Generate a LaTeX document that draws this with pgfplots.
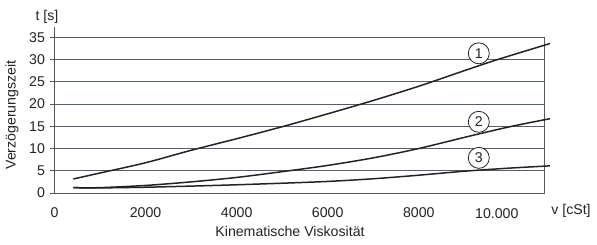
\documentclass[border=0pt]{standalone}
\usepackage{fontspec}
\setmainfont{Liberation Sans}
\usepackage{pgfplots}
\pgfplotsset{compat=1.18}
\definecolor{gridc}{RGB}{85,95,105}
\definecolor{curvec}{RGB}{35,35,35}
\definecolor{txt}{RGB}{35,35,35}
\begin{document}
\begin{tikzpicture}[font=\fontsize{14.2}{16}\selectfont]
\useasboundingbox (-54.5bp,-52bp) rectangle (542.5bp,193bp);
\begin{axis}[
  at={(0,0)}, anchor=south west,
  scale only axis, width=489.5bp, height=155.7bp,
  xmin=0, xmax=10750, ymin=0, ymax=35,
  clip=false,
  scaled x ticks=false,
  axis line style={draw=black!65, line width=0.7pt},
  xtick={0,2000,4000,6000,8000},
  xticklabels={0,2000,4000,6000,8000},
  extra x ticks={10000},
  extra x tick labels={10.000},
  extra x tick style={major tick length=0pt, xticklabel style={xshift=-13bp, yshift=-6bp}},
  xtick style={draw=none},
  ytick={0,5,...,35},
  ytick pos=left,
  tick align=outside,
  major tick length=5bp,
  ytick style={draw=black!65, line width=0.7pt},
  ymajorgrids,
  grid style={draw=gridc, line width=0.7pt},
  /pgf/number format/assume math mode=true,
  /pgf/number format/1000 sep={},
  ticklabel style={font=\fontsize{14.2}{16}\selectfont, text=txt},
  xticklabel style={yshift=-6bp},
  yticklabel style={xshift=-1bp},
]
\addplot[curvec, line width=1.5pt, smooth] coordinates {
 (413,3.15) (1000,4.5) (2000,6.8) (3000,9.6) (4000,12.2) (5000,14.9) (6000,17.8)
 (7000,20.8) (8000,24.0) (9000,27.5) (9700,29.9) (10880,33.6)};
\addplot[curvec, line width=1.5pt, smooth] coordinates {
 (413,1.2) (1000,1.2) (2000,1.7) (3000,2.5) (4000,3.5) (5000,4.8) (6000,6.2)
 (7000,7.9) (8000,10.0) (9000,12.5) (10000,14.9) (10880,16.7)};
\addplot[curvec, line width=1.5pt, smooth] coordinates {
 (413,1.2) (1000,1.15) (2000,1.3) (3000,1.55) (4000,1.85) (5000,2.2) (6000,2.6)
 (7000,3.2) (8000,4.0) (9000,4.9) (10000,5.6) (10880,6.1)};
\draw[black!65, line width=0.7pt] (axis cs:0,35) -- (axis cs:0,37.3);
\node[draw=curvec, fill=white, circle, line width=0.8pt, minimum size=21bp, inner sep=0pt, text=txt] at (axis cs:9318,31.4) {1};
\node[draw=curvec, fill=white, circle, line width=0.8pt, minimum size=21bp, inner sep=0pt, text=txt] at (axis cs:9318,16.0) {2};
\node[draw=curvec, fill=white, circle, line width=0.8pt, minimum size=21bp, inner sep=0pt, text=txt] at (axis cs:9318,7.9) {3};
\end{axis}
\node[text=txt] at (-7.5bp,176bp) {t [s]};
\node[text=txt] at (516.5bp,-18bp) {v [cSt]};
\node[text=txt] at (235.5bp,-38bp) {Kinematische Viskosität};
\node[text=txt, rotate=90] at (-42.5bp,78bp) {Verzögerungszeit};
\end{tikzpicture}
\end{document}
